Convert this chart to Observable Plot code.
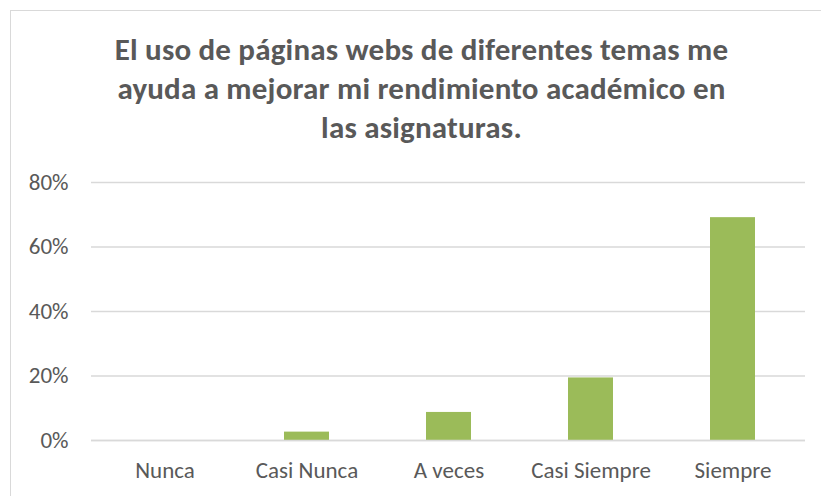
<!DOCTYPE html>
<html>
<head>
<meta charset="utf-8">
<script src="https://cdn.jsdelivr.net/npm/d3@7"></script>
<script src="https://cdn.jsdelivr.net/npm/@observablehq/plot@0.6"></script>
<style>
  html, body { margin: 0; padding: 0; background: #fff; overflow: hidden; }
  body { width: 821px; height: 496px; position: relative; font-family: Carlito, Calibri, Lato, sans-serif; }
  #frame { position: absolute; left: 10px; top: 10px; width: 840px; height: 520px; border: 1px solid #d9d9d9; box-sizing: border-box; }
  #title { position: absolute; left: 0; width: 843px; top: 30px; text-align: center; font-weight: bold; font-size: 31px; letter-spacing: 0.2px; line-height: 39px; color: #595959; }
  #chart { position: absolute; left: 0; top: 160px; }
</style>
</head>
<body>
<div id="frame"></div>
<div id="title"></div>
<div id="chart"></div>
<script>
const titleLines = [
  "El uso de páginas webs de diferentes temas me",
  "ayuda a mejorar mi rendimiento académico en",
  "las asignaturas."
];
const categories = ["Nunca", "Casi Nunca", "A veces", "Casi Siempre", "Siempre"];
const values = [0, 2.6, 8.7, 19.4, 69.1];
const yTicks = [0, 20, 40, 60, 80];

document.getElementById("title").innerHTML = titleLines.join("<br>");

const data = categories.map((c, i) => ({category: c, value: values[i]}));

const chart = Plot.plot({
  width: 821,
  height: 336,
  marginLeft: 91,
  marginRight: 16,
  marginTop: 22,
  marginBottom: 56,
  style: {fontFamily: "Carlito, Calibri, Lato, sans-serif", fontSize: "23px", color: "#595959", background: "transparent"},
  x: {domain: categories, paddingInner: 0.685, paddingOuter: 0.3425, label: null},
  y: {domain: [0, 80], label: null},
  marks: [
    Plot.ruleY(yTicks, {stroke: "#d9d9d9", strokeWidth: 1.3}),
    Plot.barY(data, {x: "category", y: "value", fill: "#9bbb59"}),
    Plot.ruleY([0], {stroke: "#d9d9d9", strokeWidth: 1.3}),
    Plot.axisY({ticks: yTicks, tickSize: 0, tickPadding: 23, tickFormat: d => d + "%", fill: "#595959", label: null}),
    Plot.axisX({tickSize: 0, tickPadding: 21, fill: "#595959", label: null})
  ]
});
document.getElementById("chart").appendChild(chart);
</script>
</body>
</html>
